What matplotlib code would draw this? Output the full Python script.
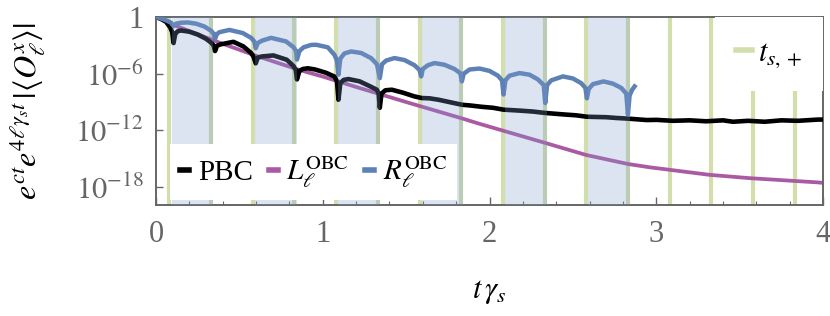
import numpy as np
import matplotlib
matplotlib.use("Agg")
import matplotlib.pyplot as plt
from matplotlib.lines import Line2D

# ---------------- data ----------------
# switching times t_{s,+} (green lines)
ts_plus = [0.08, 0.33, 0.58, 0.83, 1.08, 1.33, 1.58, 1.83,
           2.08, 2.33, 2.58, 2.83, 3.08, 3.33, 3.58, 3.83]
# shaded intervals (start, end)
band_start = [0.093, 0.593, 1.093, 1.593, 2.093, 2.593]
band_end = [0.343, 0.843, 1.343, 1.843, 2.343, 2.843]

# PBC (black): t and log10 of value
pbc_t = [0.0, 0.03, 0.06, 0.085, 0.097, 0.105, 0.115, 0.13, 0.15, 0.2, 0.25, 0.30, 0.33, 0.345,
         0.354, 0.365, 0.384, 0.464, 0.524, 0.57, 0.584, 0.598, 0.61, 0.634, 0.704, 0.784, 0.825,
         0.838, 0.845, 0.86, 0.88, 0.91, 0.954, 1.02, 1.07, 1.085, 1.094, 1.105, 1.125, 1.154,
         1.22, 1.28, 1.324, 1.335, 1.342, 1.352, 1.375, 1.414, 1.48, 1.55, 1.594, 1.64, 1.694,
         1.76, 1.834, 1.88, 1.954, 2.02, 2.084, 2.18, 2.26, 2.334, 2.44, 2.52, 2.584, 2.70,
         2.76, 2.83, 2.944, 3.0, 3.1, 3.2, 3.3, 3.4, 3.46, 3.55, 3.65, 3.75, 3.85, 3.97, 4.0]
pbc_log = [0.0, -0.2, -0.5, -1.1, -1.6, -2.75, -1.8, -1.5, -1.42, -1.55, -1.85, -2.3, -2.7, -3.0,
           -3.6, -3.05, -2.9, -2.62, -3.11, -3.8, -4.17, -4.9, -4.3, -4.17, -4.06, -4.52, -5.2,
           -5.6, -6.6, -5.7, -5.5, -5.42, -5.55, -5.9, -6.3, -6.8, -8.75, -7.0, -6.65, -6.56,
           -6.8, -7.3, -7.69, -8.1, -9.6, -8.1, -7.75, -7.69, -8.0, -8.4, -8.57, -8.6, -8.75,
           -9.0, -9.28, -9.35, -9.5, -9.6, -9.8, -9.9, -10.0, -10.15, -10.3, -10.4, -10.55,
           -10.6, -10.68, -10.75, -10.9, -10.88, -10.98, -10.93, -11.03, -10.93, -11.08, -10.98,
           -11.08, -10.93, -10.98, -10.85, -10.85]

# L_ell^OBC (magenta)
lobc_t = [0.0, 0.1, 0.38, 0.6, 0.86, 1.0, 1.2, 1.52, 1.83, 1.94, 2.33, 2.58, 2.83, 2.96,
          3.32, 3.56, 3.97, 4.0]
lobc_log = [0.0, -0.8, -2.7, -4.1, -5.6, -6.3, -7.4, -9.1, -10.7, -11.3, -13.3, -14.6, -15.55,
            -15.9, -16.7, -17.05, -17.5, -17.55]

# R_ell^OBC (blue)
robc_t = [0.0, 0.03, 0.06, 0.09, 0.105, 0.12, 0.15, 0.19, 0.24, 0.29, 0.33, 0.345, 0.354, 0.365,
          0.38, 0.44, 0.52, 0.57, 0.59, 0.598, 0.61, 0.635, 0.69, 0.78, 0.825, 0.84, 0.845, 0.86,
          0.885, 0.93, 0.96, 1.03, 1.07, 1.085, 1.094, 1.105, 1.13, 1.17, 1.23, 1.29, 1.325,
          1.342, 1.355, 1.38, 1.43, 1.49, 1.55, 1.58, 1.59, 1.60, 1.63, 1.67, 1.73, 1.79, 1.825,
          1.834, 1.845, 1.88, 1.94, 2.0, 2.05, 2.075, 2.084, 2.095, 2.12, 2.18, 2.24, 2.29, 2.325,
          2.334, 2.345, 2.37, 2.44, 2.50, 2.55, 2.575, 2.584, 2.595, 2.62, 2.684, 2.74, 2.79,
          2.82, 2.83, 2.84, 2.855, 2.87]
robc_log = [0.0, -0.15, -0.35, -0.6, -0.95, -0.7, -0.6, -0.57, -0.7, -1.0, -1.45, -1.75, -2.3,
            -1.8, -1.6, -1.36, -1.69, -2.2, -2.6, -3.3, -2.75, -2.5, -2.2, -2.58, -3.2, -3.6,
            -4.5, -3.6, -3.2, -2.95, -2.93, -3.2, -4.0, -4.6, -6.1, -4.4, -3.85, -3.64, -3.8,
            -4.35, -5.0, -6.46, -5.0, -4.6, -4.34, -4.55, -5.1, -5.6, -6.28, -5.5, -5.1, -4.87,
            -5.05, -5.5, -5.95, -6.81, -6.0, -5.55, -5.45, -5.7, -6.2, -6.7, -8.2, -6.7, -6.2,
            -5.93, -6.1, -6.6, -7.2, -9.1, -7.2, -6.7, -6.28, -6.5, -7.0, -7.5, -8.6, -7.6, -7.1,
            -6.81, -7.05, -7.5, -8.1, -10.3, -8.3, -7.7, -7.34]

series_labels = ["PBC", r"$L_\ell^{\mathrm{OBC}}$", r"$R_\ell^{\mathrm{OBC}}$"]
ytick_vals = [1.0, 1e-6, 1e-12, 1e-18]
ytick_labels = ["1", r"$10^{-6}$", r"$10^{-12}$", r"$10^{-18}$"]
xtick_vals = [0, 1, 2, 3, 4]

# ---------------- style ----------------
plt.rcParams["font.family"] = ["Liberation Serif", "DejaVu Serif"]
plt.rcParams["mathtext.fontset"] = "stix"

c_black = "#000000"
c_mag = "#a95aa3"
c_blue = "#5e81b5"
c_green = "#d2dfad"
c_band = "#7f9bcc"
c_gray = "#666666"

fig = plt.figure(figsize=(8.3, 3.16), dpi=100)
ax = fig.add_axes([0.188, 0.351, 0.8036, 0.595])

for t in ts_plus:
    ax.axvline(t, color=c_green, lw=3.0, zorder=1)

ax.plot(lobc_t, 10.0 ** np.array(lobc_log), color=c_mag, lw=2.7, zorder=2, solid_joinstyle="round")
ax.plot(pbc_t, 10.0 ** np.array(pbc_log), color=c_black, lw=3.3, zorder=3, solid_joinstyle="round")
ax.plot(robc_t, 10.0 ** np.array(robc_log), color=c_blue, lw=3.2, zorder=4, solid_joinstyle="round")

for a, b in zip(band_start, band_end):
    ax.axvspan(a, b, color=c_band, alpha=0.27, lw=0, zorder=5)

ax.set_yscale("log")
ax.set_xlim(0, 4)
ax.set_ylim(10 ** -19.9, 1.0)
ax.set_yticks(ytick_vals)
ax.set_yticklabels(ytick_labels)
ax.yaxis.set_minor_locator(matplotlib.ticker.NullLocator())
ax.set_xticks(xtick_vals)
ax.set_xticklabels([str(v) for v in xtick_vals])
ax.set_xticks(np.arange(0, 4.01, 0.2), minor=True)

ax.tick_params(axis="both", which="both", direction="in", colors=c_gray, labelsize=22)
ax.tick_params(axis="x", which="major", length=6, width=1.0, pad=11)
ax.tick_params(axis="x", which="minor", length=3, width=0.8)
ax.tick_params(axis="y", which="major", length=5, width=1.0, pad=9)
for s in ax.spines.values():
    s.set_color(c_gray)
    s.set_linewidth(1.4)

ax.set_xlabel(r"$t\,\gamma_s$", fontsize=22, labelpad=20)
fig.text(0.033, 0.35 + 0.595 / 2, r"$e^{ct}e^{4\ell\gamma_s t}\,|\langle O_\ell^x\rangle|$",
         rotation=90, ha="center", va="center", fontsize=23)

handles = [Line2D([], [], color=c, lw=4) for c in (c_black, c_mag, c_blue)]
leg = ax.legend(handles, series_labels, loc="lower left", bbox_to_anchor=(0.021, 0.027),
                borderaxespad=0, ncol=3, handlelength=0.3, handletextpad=0.3,
                columnspacing=0.55, fontsize=21, frameon=True, fancybox=False,
                framealpha=1, edgecolor="none", facecolor="white", borderpad=0.35)
leg.set_zorder(10)
ax.add_artist(leg)

h2 = [Line2D([], [], color=c_green, lw=4)]
leg2 = ax.legend(h2, [r"$t_{s,+}$"], loc="upper right", bbox_to_anchor=(1.0, 1.0),
                 borderaxespad=0, handlelength=0.5, handletextpad=0.2, fontsize=22,
                 frameon=True, fancybox=False, framealpha=1, edgecolor="none",
                 facecolor="white", borderpad=0.7)
leg2.set_zorder(10)

fig.savefig("out.png", dpi=100)
